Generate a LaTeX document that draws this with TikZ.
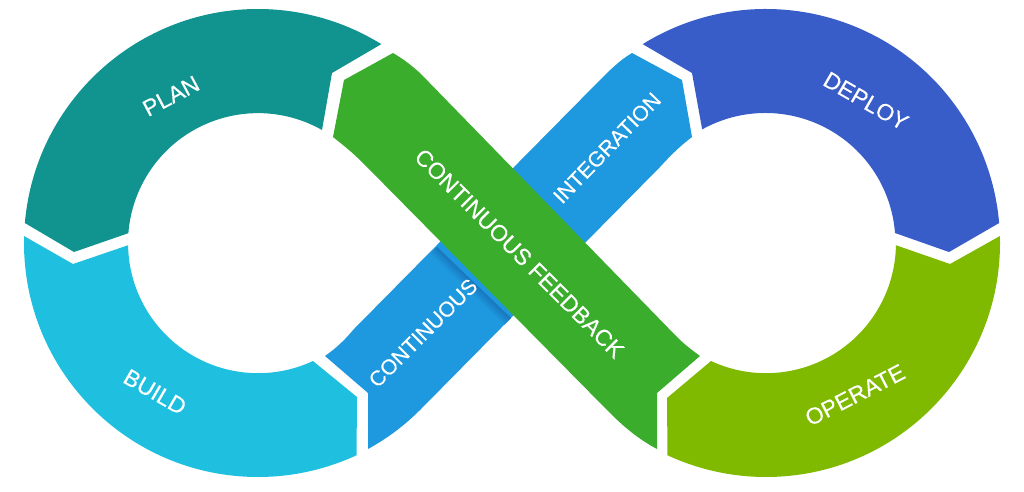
\documentclass[tikz,border=0pt]{standalone}
\usepackage{fontspec}
\setmainfont[FakeBold=0.25]{Liberation Sans}
\definecolor{plancol}{HTML}{119490}
\definecolor{buildcol}{HTML}{1FC0DF}
\definecolor{deploycol}{HTML}{385CC8}
\definecolor{operatecol}{HTML}{7FBA00}
\definecolor{intcol}{HTML}{1E98DE}
\definecolor{intdark}{HTML}{1876BC}
\definecolor{feedcol}{HTML}{3BAD2C}
\begin{document}
\begin{tikzpicture}[x=1pt,y=-1pt]
  \tikzstyle{LabelStyle}=[text=white,inner sep=0pt,font=\fontsize{23}{24}\selectfont]
  \tikzstyle{SmallLabel}=[text=white,inner sep=0pt,font=\fontsize{21.3}{24}\selectfont]
  \useasboundingbox (0,0) rectangle (1024,491);
  \coordinate (L) at (258,243);
  \coordinate (R) at (766,243);
  % left ring
  \fill[plancol] (L) ++(184.9:234) arc[start angle=184.9,end angle=301.8,radius=234]
    -- (332,73) -- (322,130) arc[start angle=299.5,end angle=184.4,radius=130]
    -- (74,252) -- cycle;
  \fill[buildcol] (L) ++(181.7:234) arc[start angle=181.7,end angle=65.1,radius=234]
    -- (357,397) -- (313,361) arc[start angle=65,end angle=179.1,radius=130]
    -- (73,264) -- cycle;
  % right ring
  \fill[deploycol] (R) ++(238.2:234) arc[start angle=238.2,end angle=355.1,radius=234]
    -- (949,252) -- (895,233) arc[start angle=355.6,end angle=240.9,radius=130]
    -- (692,73) -- cycle;
  \fill[operatecol] (R) ++(-1.7:234) arc[start angle=-1.7,end angle=114.9,radius=234]
    -- (667,398) -- (711,361) arc[start angle=115,end angle=0.9,radius=130]
    -- (950,264) -- cycle;
  % ribbons
  \fill[intcol] (632,53) -- (682,80) -- (692,137)
    .. controls (680,146) and (670,156) .. (660,167) -- (420,410)
    .. controls (405,425) and (388,438) .. (368,449) -- (368,393) -- (325,356)
    .. controls (335,349) and (345,340) .. (353,330) -- (600,80)
    .. controls (610,70) and (620,60) .. (632,53) -- cycle;
  \begin{scope}
    \clip (353,330) -- (440,242) -- (516,313) -- (420,410) -- cycle;
    \shade[transform canvas={shift={(437,247)},rotate=-43.8},top color=intdark,bottom color=intcol]
      (0,0) rectangle (104,10);
  \end{scope}
  \fill[feedcol] (393,53) .. controls (405,60) and (412,66) .. (420,73) -- (677,337)
    .. controls (685,345) and (692,350) .. (700,356) -- (657,393) -- (657,449)
    .. controls (640,440) and (625,428) .. (610,413) -- (363,163)
    .. controls (352,152) and (343,145) .. (333,137) -- (344,80) -- cycle;
  % labels
  \node[LabelStyle,rotate=28] (plan) at (171,96) {PLAN};
  \node[LabelStyle,rotate=-30] (build) at (155,392) {BUILD};
  \node[LabelStyle,rotate=-30] (deploy) at (866,101) {DEPLOY};
  \node[LabelStyle,rotate=27] (operate) at (855,395) {OPERATE};
  \node[SmallLabel,rotate=46] (integration) at (607,148) {INTEGRATION};
  \node[SmallLabel,rotate=45] (continuous) at (423,333) {CONTINUOUS};
  \node[LabelStyle,rotate=-45] (feedback) at (519.5,253.5) {CONTINUOUS FEEDBACK};
\end{tikzpicture}
\end{document}
